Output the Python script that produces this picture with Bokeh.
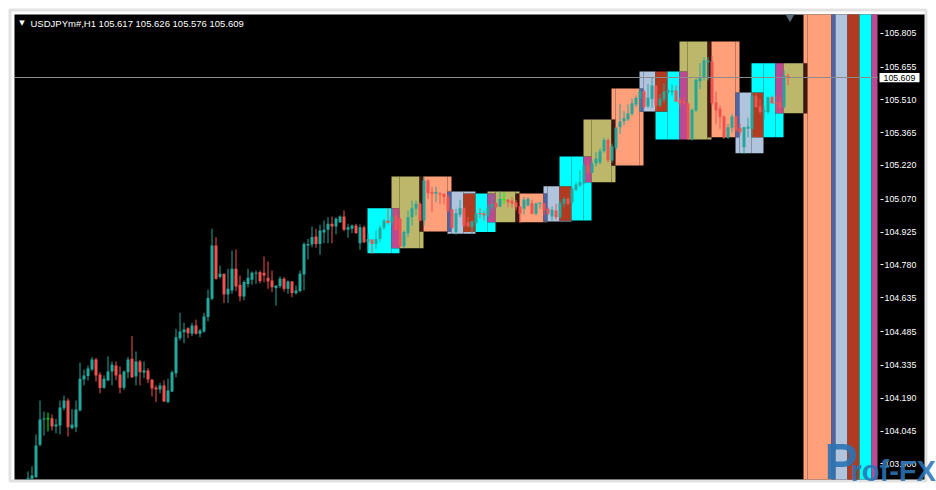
from bokeh.plotting import figure
from bokeh.models import (Range1d, FixedTicker, PrintfTickFormatter, Label, ColumnDataSource,
                          BoxAnnotation, LinearAxis)
from bokeh.embed import file_html
from bokeh.resources import INLINE

# ---------------- data (H1 candles) ----------------
opens = [103.831, 103.834, 103.841, 103.984, 104.097, 104.099, 104.102, 104.065, 104.070, 104.146,
         104.180, 104.059, 104.062, 104.136, 104.273, 104.288, 104.317, 104.362, 104.295, 104.236,
         104.269, 104.308, 104.335, 104.295, 104.236, 104.305, 104.365, 104.286, 104.353, 104.304,
         104.313, 104.273, 104.238, 104.229, 104.247, 104.173, 104.220, 104.301, 104.456, 104.482,
         104.500, 104.475, 104.512, 104.475, 104.485, 104.549, 104.630, 104.866, 104.726, 104.741,
         104.649, 104.667, 104.763, 104.692, 104.640, 104.696, 104.714, 104.742, 104.748, 104.745,
         104.723, 104.711, 104.677, 104.686, 104.719, 104.674, 104.707, 104.655, 104.664, 104.738,
         104.866, 104.870, 104.906, 104.873, 104.923, 104.935, 104.962, 104.950, 104.969, 104.994,
         104.935, 104.940, 104.954, 104.876, 104.947, 104.880, 104.892, 104.873, 104.895, 104.944,
         104.976, 104.969, 104.999, 104.984, 104.861, 104.920, 104.991, 105.028, 105.050, 104.976,
         105.153, 105.102, 105.095, 105.097, 105.095, 105.080, 105.025, 104.925, 105.002, 105.031,
         104.969, 104.947, 104.965, 105.009, 105.009, 104.999, 105.033, 105.053, 105.038, 105.068,
         105.068, 105.065, 105.057, 105.038, 105.028, 105.043, 105.053, 105.006, 105.050, 105.053,
         105.028, 104.994, 105.021, 104.991, 105.050, 105.072, 105.057, 105.112, 105.131, 105.141,
         105.220, 105.189, 105.229, 105.233, 105.283, 105.333, 105.242, 105.298, 105.389, 105.416,
         105.423, 105.448, 105.490, 105.515, 105.547, 105.481, 105.515, 105.574, 105.485, 105.512,
         105.544, 105.544, 105.552, 105.510, 105.503, 105.493, 105.338, 105.463, 105.593, 105.610,
         105.677, 105.680, 105.500, 105.471, 105.437, 105.342, 105.387, 105.437, 105.387, 105.301,
         105.382, 105.382, 105.526, 105.481, 105.456, 105.456, 105.522, 105.500, 105.500, 105.478,
         105.617]
highs = [103.866, 103.889, 104.030, 104.180, 104.131, 104.126, 104.118, 104.099, 104.180, 104.202,
         104.190, 104.143, 104.180, 104.348, 104.317, 104.335, 104.372, 104.369, 104.305, 104.291,
         104.375, 104.353, 104.353, 104.331, 104.313, 104.372, 104.465, 104.397, 104.360, 104.353,
         104.323, 104.273, 104.247, 104.258, 104.269, 104.276, 104.313, 104.497, 104.568, 104.524,
         104.504, 104.524, 104.538, 104.497, 104.568, 104.671, 104.940, 104.903, 104.777, 104.741,
         104.763, 104.844, 104.848, 104.733, 104.711, 104.763, 104.751, 104.755, 104.755, 104.817,
         104.795, 104.755, 104.689, 104.729, 104.726, 104.711, 104.707, 104.689, 104.755, 104.880,
         104.895, 104.950, 104.940, 104.957, 104.976, 104.991, 104.994, 104.991, 104.999, 105.021,
         104.962, 104.959, 104.962, 104.959, 104.954, 104.920, 104.892, 104.932, 104.954, 104.984,
         105.031, 105.028, 105.028, 104.991, 104.932, 105.021, 105.065, 105.065, 105.057, 105.171,
         105.161, 105.124, 105.127, 105.102, 105.097, 105.091, 105.028, 105.028, 105.068, 105.035,
         104.991, 104.976, 105.013, 105.031, 105.021, 105.050, 105.095, 105.057, 105.106, 105.102,
         105.072, 105.080, 105.068, 105.038, 105.080, 105.080, 105.068, 105.053, 105.057, 105.053,
         105.035, 105.038, 105.050, 105.065, 105.080, 105.080, 105.124, 105.146, 105.198, 105.229,
         105.242, 105.242, 105.279, 105.295, 105.344, 105.339, 105.316, 105.389, 105.493, 105.460,
         105.490, 105.515, 105.529, 105.559, 105.555, 105.581, 105.610, 105.574, 105.537, 105.581,
         105.559, 105.578, 105.574, 105.522, 105.522, 105.500, 105.471, 105.603, 105.672, 105.699,
         105.699, 105.706, 105.547, 105.485, 105.441, 105.404, 105.448, 105.441, 105.404, 105.392,
         105.431, 105.544, 105.537, 105.515, 105.485, 105.525, 105.529, 105.529, 105.529, 105.640,
         105.626]
lows = [103.822, 103.826, 103.838, 103.977, 104.025, 104.044, 104.047, 104.035, 104.030, 104.136,
        104.021, 104.052, 104.040, 104.132, 104.247, 104.269, 104.310, 104.264, 104.212, 104.232,
        104.266, 104.247, 104.269, 104.212, 104.227, 104.279, 104.279, 104.247, 104.247, 104.279,
        104.257, 104.198, 104.173, 104.212, 104.173, 104.168, 104.217, 104.283, 104.446, 104.434,
        104.456, 104.465, 104.471, 104.460, 104.480, 104.531, 104.623, 104.714, 104.719, 104.611,
        104.611, 104.652, 104.664, 104.618, 104.623, 104.681, 104.692, 104.696, 104.699, 104.704,
        104.674, 104.659, 104.600, 104.677, 104.662, 104.652, 104.637, 104.648, 104.659, 104.667,
        104.804, 104.858, 104.856, 104.825, 104.876, 104.876, 104.876, 104.915, 104.965, 104.929,
        104.900, 104.920, 104.918, 104.847, 104.876, 104.844, 104.829, 104.851, 104.880, 104.935,
        104.959, 104.954, 104.932, 104.858, 104.854, 104.903, 104.954, 104.999, 104.972, 104.954,
        105.072, 105.013, 105.057, 105.050, 105.047, 105.013, 104.940, 104.913, 104.991, 104.947,
        104.947, 104.920, 104.962, 104.987, 104.976, 104.991, 105.021, 105.033, 105.035, 105.050,
        105.035, 105.033, 105.021, 104.965, 105.003, 105.038, 105.003, 104.999, 105.028, 104.999,
        104.999, 104.976, 104.980, 104.984, 105.035, 105.043, 105.050, 105.106, 105.124, 105.136,
        105.180, 105.184, 105.215, 105.224, 105.277, 105.233, 105.233, 105.286, 105.360, 105.397,
        105.416, 105.441, 105.478, 105.459, 105.471, 105.475, 105.475, 105.463, 105.478, 105.500,
        105.537, 105.529, 105.500, 105.478, 105.485, 105.333, 105.330, 105.456, 105.559, 105.596,
        105.596, 105.485, 105.404, 105.382, 105.338, 105.338, 105.367, 105.367, 105.353, 105.272,
        105.345, 105.342, 105.475, 105.448, 105.426, 105.448, 105.493, 105.456, 105.448, 105.471,
        105.576]
closes = [103.836, 103.848, 103.981, 104.096, 104.100, 104.099, 104.065, 104.074, 104.149, 104.180,
          104.062, 104.074, 104.140, 104.276, 104.291, 104.322, 104.362, 104.291, 104.235, 104.276,
          104.308, 104.338, 104.291, 104.236, 104.308, 104.362, 104.283, 104.353, 104.305, 104.313,
          104.273, 104.233, 104.229, 104.247, 104.176, 104.224, 104.305, 104.460, 104.485, 104.494,
          104.478, 104.512, 104.475, 104.490, 104.552, 104.634, 104.866, 104.719, 104.741, 104.649,
          104.674, 104.763, 104.684, 104.640, 104.704, 104.723, 104.745, 104.745, 104.708, 104.733,
          104.707, 104.681, 104.689, 104.719, 104.674, 104.707, 104.655, 104.667, 104.741, 104.873,
          104.873, 104.903, 104.873, 104.932, 104.935, 104.962, 104.950, 104.984, 104.994, 104.935,
          104.947, 104.954, 104.920, 104.947, 104.880, 104.895, 104.873, 104.895, 104.944, 104.976,
          104.965, 104.994, 104.935, 104.861, 104.925, 104.991, 105.031, 105.050, 104.976, 105.153,
          105.097, 105.095, 105.102, 105.091, 105.080, 105.021, 104.944, 105.009, 105.031, 104.954,
          104.950, 104.973, 105.006, 105.006, 104.999, 105.035, 105.050, 105.035, 105.072, 105.068,
          105.057, 105.050, 105.035, 105.006, 105.068, 105.072, 105.006, 105.053, 105.055, 105.021,
          105.006, 105.024, 104.991, 105.053, 105.072, 105.050, 105.117, 105.136, 105.146, 105.220,
          105.189, 105.229, 105.251, 105.283, 105.333, 105.242, 105.304, 105.387, 105.414, 105.429,
          105.450, 105.495, 105.518, 105.547, 105.478, 105.519, 105.574, 105.485, 105.515, 105.547,
          105.552, 105.552, 105.503, 105.495, 105.495, 105.338, 105.466, 105.599, 105.610, 105.684,
          105.684, 105.495, 105.463, 105.433, 105.342, 105.389, 105.437, 105.375, 105.367, 105.389,
          105.392, 105.529, 105.478, 105.456, 105.463, 105.522, 105.495, 105.493, 105.475, 105.618,
          105.609]

# session boxes (bar index of start / end, price top / bottom, colour)
box_start = [85, 91, 98, 105, 109, 115, 122, 129, 133, 139, 146, 153, 157, 163, 170, 177, 181, 187,
             194, 201, 205, 211]
box_end = [93, 99, 106, 112, 117, 123, 130, 136, 141, 147, 154, 160, 165, 171, 178, 184, 189, 195,
           202, 208, 213, 219]
box_top = [105.031, 105.171, 105.171, 105.105, 105.096, 105.105, 105.096, 105.128, 105.260, 105.423,
           105.560, 105.636, 105.636, 105.768, 105.768, 105.543, 105.672, 105.672,
           106.500, 106.500, 106.500, 106.500]
box_bottom = [104.832, 104.854, 104.928, 104.918, 104.925, 104.969, 104.969, 104.972, 104.976, 105.146,
              105.220, 105.459, 105.335, 105.335, 105.345, 105.274, 105.345, 105.451,
              103.000, 103.000, 103.000, 103.000]
box_color = ["#00FFFF", "#BDB76B", "#FFA07A", "#B0C4DE", "#00FFFF", "#BDB76B", "#FFA07A", "#B0C4DE",
             "#00FFFF", "#BDB76B", "#FFA07A", "#B0C4DE", "#00FFFF", "#BDB76B", "#FFA07A", "#B0C4DE",
             "#00FFFF", "#BDB76B", "#FFA07A", "#B0C4DE", "#00FFFF", "#BDB76B"]

price_ticks = [103.900, 104.045, 104.190, 104.335, 104.485, 104.635, 104.780, 104.925,
               105.070, 105.220, 105.365, 105.510, 105.655, 105.805]
header_text = "USDJPYm#,H1  105.617 105.626 105.576 105.609"
last_price = 105.609
last_price_text = "105.609"
shift_marker_index = 190.5

# chart window (bar index / price limits of the black chart pane)
pane_left, pane_right, pane_axis_right = -3.375, 212.375, 224.125
pane_top, pane_bottom = 105.8878, 103.8306

# ---------------- figure (frame = whole canvas) ----------------
W, H = 936, 488
p = figure(width=W, height=H, title=None,
           x_range=Range1d(-6.875, 227.125), y_range=Range1d(103.7908, 105.9497),
           output_backend="svg", toolbar_location=None,
           x_axis_location=None, y_axis_location=None,
           min_border=0, min_border_left=0, min_border_right=0, min_border_top=0, min_border_bottom=0,
           background_fill_color="white", border_fill_color="white",
           outline_line_color=None)
p.grid.visible = False

# window frame and black pane
p.add_layout(BoxAnnotation(left=9.5, right=925.5, bottom=H - 480.5, top=H - 9.5,
                           left_units="screen", right_units="screen",
                           bottom_units="screen", top_units="screen",
                           fill_alpha=0, line_color="#a0a0a0", line_width=3, level="underlay"))
p.add_layout(BoxAnnotation(left=pane_left, right=pane_axis_right, bottom=pane_bottom, top=pane_top,
                           fill_color="black", fill_alpha=1, line_color=None, level="underlay"))

# boxes, overlapping areas combined with XOR like the terminal does
edge = -0.125
def to_int(c):
    return int(c[1:], 16)

bs = [s + edge for s in box_start]
be = [min(e + edge, pane_right) for e in box_end]
bt = [min(t, pane_top) for t in box_top]
bb = [max(b, pane_bottom) for b in box_bottom]
xe = sorted(set(bs + be))
ye = sorted(set(bt + bb))
cl, cr, ct, cb, cc = [], [], [], [], []
for a, b in zip(xe[:-1], xe[1:]):
    run = None
    for lo, hi in zip(ye[:-1], ye[1:]):
        col, cov = 0, False
        for k in range(len(bs)):
            if bs[k] <= a and be[k] >= b and bb[k] <= lo and bt[k] >= hi:
                col ^= to_int(box_color[k])
                cov = True
        colstr = "#%06x" % col if cov else None
        if run is not None and run[2] == colstr:
            run[1] = hi
        else:
            if run is not None and run[2] is not None:
                cl.append(a); cr.append(b); cb.append(run[0]); ct.append(run[1]); cc.append(run[2])
            run = [lo, hi, colstr]
    if run is not None and run[2] is not None:
        cl.append(a); cr.append(b); cb.append(run[0]); ct.append(run[1]); cc.append(run[2])

p.quad(left=cl, right=cr, top=ct, bottom=cb, fill_color=cc, line_color=None)

# candles
idx = list(range(len(opens)))
ccol, btop, bbot = [], [], []
for o, c in zip(opens, closes):
    if c > o:
        ccol.append("#26a69a")
    elif c < o:
        ccol.append("#ef5350")
    else:
        ccol.append("#00ff00")
    h = max(o, c); l = min(o, c)
    if h - l < 0.0045:
        m = (h + l) / 2
        h, l = m + 0.00225, m - 0.00225
    btop.append(h); bbot.append(max(l, pane_bottom))
lows_vis = [max(v, pane_bottom) for v in lows]
src = ColumnDataSource(dict(x=idx, o=opens, h=highs, l=lows_vis, c=closes, bt=btop, bb=bbot, col=ccol))
p.segment(x0="x", x1="x", y0="l", y1="h", color="col", line_width=1, source=src)
p.vbar(x="x", width=0.75, top="bt", bottom="bb", fill_color="col", line_color=None, source=src)

# bid line
p.segment(x0=[pane_left], x1=[pane_right], y0=[last_price], y1=[last_price],
          line_color="#8c8c8c", line_width=1)

# chart-shift marker
p.scatter(x=[shift_marker_index], y=[105.877], marker="inverted_triangle", size=9,
          fill_color="#5a6a7a", line_color=None)

# price axis, drawn at the right edge of the chart pane
ax = LinearAxis(fixed_location=pane_right)
ax.ticker = FixedTicker(ticks=price_ticks)
ax.formatter = PrintfTickFormatter(format="%.3f")
ax.major_label_text_color = "white"
ax.major_label_text_font = "Liberation Sans"
ax.major_label_text_font_size = "8.8px"
ax.major_tick_line_color = "white"
ax.major_tick_in = -3
ax.major_tick_out = 6
ax.minor_tick_line_color = None
ax.axis_line_color = None
ax.major_label_standoff = 1
p.add_layout(ax, "right")

# current price tag
p.add_layout(BoxAnnotation(left=879, right=919, left_units="screen", right_units="screen",
                           bottom=last_price - 0.0205, top=last_price + 0.0205,
                           fill_color="white", fill_alpha=1, line_color=None))
p.add_layout(Label(x=883, y=last_price, x_units="screen", y_units="data", text=last_price_text,
                   text_color="black", text_font="Liberation Sans", text_font_size="8.8px",
                   text_baseline="middle", text_align="left"))

# header
p.add_layout(Label(x=21.5, y=H - 22, x_units="screen", y_units="screen", text="\u25bc",
                   text_color="white", text_font="DejaVu Sans", text_font_size="7px",
                   text_baseline="middle", text_align="center"))
p.add_layout(Label(x=30, y=H - 22.5, x_units="screen", y_units="screen", text=header_text,
                   text_color="white", text_font="Liberation Sans", text_font_size="9.5px",
                   text_baseline="middle", text_align="left"))

# watermark
p.add_layout(Label(x=824, y=H - 461, x_units="screen", y_units="screen", text="P",
                   text_color="#2b73b4", text_alpha=0.9, text_font="Liberation Sans",
                   text_font_style="bold", text_font_size="50px", text_baseline="middle"))
p.add_layout(Label(x=850, y=H - 470, x_units="screen", y_units="screen", text="rof-FX",
                   text_color="#2b73b4", text_alpha=0.9, text_font="Liberation Sans",
                   text_font_style="bold", text_font_size="29px", text_baseline="middle"))

open("out.html", "w").write(file_html(p, INLINE))
